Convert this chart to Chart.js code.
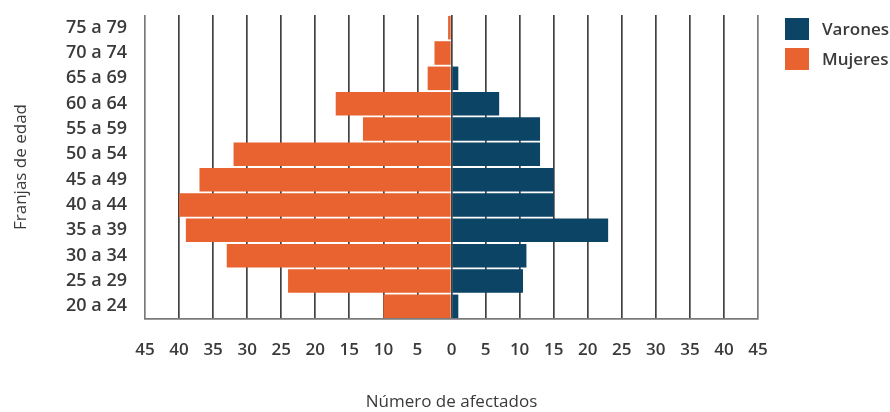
<!DOCTYPE html>
<html>
<head>
<meta charset="utf-8">
<title>Franjas de edad</title>
<script src="https://cdn.jsdelivr.net/npm/chart.js@4.4.0/dist/chart.umd.min.js"></script>
<style>
  html, body { margin: 0; padding: 0; background: #ffffff; }
  #wrap { width: 890px; height: 412px; }
</style>
</head>
<body>
<div id="wrap"><canvas id="piramide" width="890" height="412"></canvas></div>
<script>
// Age bands, top to bottom
const franjas = ['75 a 79', '70 a 74', '65 a 69', '60 a 64', '55 a 59', '50 a 54',
                 '45 a 49', '40 a 44', '35 a 39', '30 a 34', '25 a 29', '20 a 24'];
// Number of affected people per band
const varones = [0, 0, 1, 7, 13, 13, 15, 15, 23, 11, 10.5, 1];
const mujeres = [0.5, 2.5, 3.5, 17, 13, 32, 37, 40, 39, 33, 24, 10];
// Axis range and step (mirrored around zero)
const ejeMax = 45;
const ejePaso = 5;

const colorVarones = '#0c4466';
const colorMujeres = '#e8632f';
const colorTexto = '#3a3a3a';
const familia = '"Open Sans", "DejaVu Sans", sans-serif';
const fuente = { family: familia, size: 17, weight: '600' };
const fuenteEtiquetas = { family: familia, size: 18, weight: '600' };
const fuenteTitulo = { family: familia, size: 17, weight: '500' };

// Legend drawn to the right of the plot area
const leyenda = {
  id: 'leyenda',
  afterDraw(chart) {
    const { ctx, chartArea } = chart;
    const x0 = chartArea.right + 27;
    ctx.save();
    chart.data.datasets.forEach((ds, i) => {
      const y = 18 + i * 30;
      ctx.fillStyle = ds.backgroundColor;
      ctx.fillRect(x0, y, 24, 22);
      ctx.fillStyle = colorTexto;
      ctx.font = `${fuente.weight} ${fuente.size}px ${fuente.family}`;
      ctx.textBaseline = 'middle';
      ctx.textAlign = 'left';
      ctx.fillText(ds.label, x0 + 37, y + 12);
    });
    ctx.restore();
  }
};

new Chart(document.getElementById('piramide'), {
  type: 'bar',
  data: {
    labels: franjas,
    datasets: [
      {
        label: 'Varones',
        data: varones,
        backgroundColor: colorVarones,
        barPercentage: 0.93,
        categoryPercentage: 1
      },
      {
        label: 'Mujeres',
        data: mujeres.map(v => -v),
        backgroundColor: colorMujeres,
        barPercentage: 0.93,
        categoryPercentage: 1
      }
    ]
  },
  options: {
    indexAxis: 'y',
    responsive: false,
    animation: false,
    layout: { padding: { top: 15, right: 132, left: 0, bottom: 0 } },
    plugins: {
      legend: { display: false },
      tooltip: { enabled: false }
    },
    scales: {
      x: {
        stacked: true,
        min: -ejeMax,
        max: ejeMax,
        ticks: {
          stepSize: ejePaso,
          autoSkip: false,
          maxRotation: 0,
          padding: 21,
          color: colorTexto,
          font: fuente,
          callback: v => Math.abs(v)
        },
        grid: {
          drawTicks: false,
          lineWidth: 1.7,
          color: ctx => (ctx.tick && Math.abs(ctx.tick.value) === ejeMax) ? '#7a7a7a' : '#424242'
        },
        border: { display: true, color: '#7a7a7a', width: 1.7 },
        title: {
          display: true,
          text: 'Número de afectados',
          color: colorTexto,
          font: fuenteTitulo,
          padding: 0
        },
        afterFit(scale) { scale.height = 93; }
      },
      y: {
        stacked: true,
        ticks: { padding: 18, color: colorTexto, font: fuenteEtiquetas },
        grid: { display: false, drawTicks: false },
        border: { display: false },
        title: {
          display: true,
          text: 'Franjas de edad',
          color: colorTexto,
          font: fuenteTitulo,
          padding: { top: 11, bottom: 0 }
        },
        afterFit(scale) {
          scale.width = 145;
          scale.paddingTop = 0;
          scale.paddingBottom = 0;
        }
      }
    }
  },
  plugins: [leyenda]
});
</script>
</body>
</html>
